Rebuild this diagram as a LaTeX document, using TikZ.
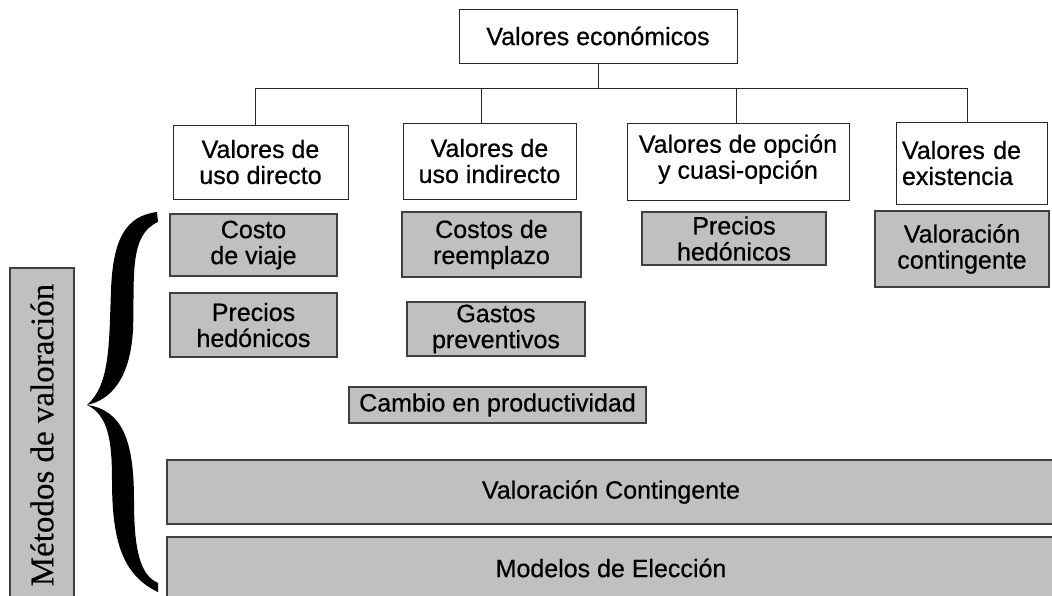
\documentclass[tikz,border=0pt]{standalone}
\usepackage{fontspec}
\setmainfont{Liberation Sans}[FakeBold=0.6]
\newfontfamily\serifont{Liberation Serif}[FakeBold=0.3]
\definecolor{graybg}{HTML}{C0C0C0}
\begin{document}
\begin{tikzpicture}[x=1pt,y=-1pt,
  txtfont/.style={font=\fontsize{25}{26}\selectfont},
  wbox/.style={draw=black!85, line width=1pt, fill=white, align=center, inner sep=0pt, txtfont},
  gbox/.style={draw=black!75, line width=1.4pt, fill=graybg, align=center, inner sep=0pt, txtfont},
  link/.style={draw=black!85, line width=1pt}]
\useasboundingbox (0,0) rectangle (1052,595);

% top level
\node[wbox, minimum width=278pt, minimum height=54pt] (top) at (598,36) {Valores económicos};

% value categories
\node[wbox, minimum width=175pt, minimum height=74pt] (v1) at (260.5,162) {Valores de\\uso directo};
\node[wbox, minimum width=173pt, minimum height=76pt] (v2) at (489.5,161) {Valores de\\uso indirecto};
\node[wbox, minimum width=222pt, minimum height=77pt, text depth=10pt] (v3) at (738,161.5) {Valores de opción\\y cuasi-opción};
\node[wbox, minimum width=151pt, minimum height=82pt, align=left, text width=139pt] (v4) at (971.5,163) {Valores de\\existencia};

% connectors
\coordinate (busL) at (255,88);
\coordinate (busR) at (967,88);
\draw[link] (top.south) -- (top.south |- busL);
\draw[link] (busL) -- (busR);
\draw[link] ([xshift=-5.5pt]v1.north) -- ([xshift=-5.5pt]v1.north |- busL);
\draw[link] ([xshift=-8.5pt]v2.north) -- ([xshift=-8.5pt]v2.north |- busL);
\draw[link] ([xshift=-2pt]v3.north) -- ([xshift=-2pt]v3.north |- busL);
\draw[link] ([xshift=-4.5pt]v4.north) -- ([xshift=-4.5pt]v4.north |- busR);

% methods
\node[gbox, minimum width=167pt, minimum height=62pt] (m1) at (253.5,245) {Costo\\de viaje};
\node[gbox, minimum width=167pt, minimum height=64pt] (m2) at (253.5,325) {Precios\\hedónicos};
\node[gbox, minimum width=179pt, minimum height=65pt] (m3) at (491.5,244.5) {Costos de\\reemplazo};
\node[gbox, minimum width=178pt, minimum height=54pt] (m4) at (496,329) {Gastos\\preventivos};
\node[gbox, minimum width=297pt, minimum height=36pt] (m5) at (497.5,405) {Cambio en productividad};
\node[gbox, minimum width=184pt, minimum height=53pt] (m6) at (734,238.5) {Precios\\hedónicos};
\node[gbox, minimum width=174pt, minimum height=76pt] (m7) at (962,249) {Valoración\\contingente};
\node[gbox, minimum width=888pt, minimum height=64pt] (w1) at (611,492) {Valoración Contingente};
\node[gbox, minimum width=888pt, minimum height=62pt] (w2) at (611,568) {Modelos de Elección};

% side label
\node[draw=black!75, line width=1.2pt, fill=graybg, inner sep=0pt, rotate=90,
      minimum width=334pt, minimum height=64pt, font=\serifont\fontsize{33}{35}\selectfont] (lab) at (42,435) {Métodos de valoración};

% brace
\fill[black] (157,212) .. controls (125,216) and (113,240) .. (111,290)
  .. controls (109,345) and (110,385) .. (87,405)
  .. controls (110,400) and (130,380) .. (133,330)
  .. controls (135,280) and (128,235) .. (158,222) -- cycle;
\fill[black] (87,405) .. controls (108,415) and (112,440) .. (112,480)
  .. controls (112,540) and (122,575) .. (158,592)
  -- (158,583)
  .. controls (140,575) and (134,550) .. (134,500)
  .. controls (134,440) and (122,410) .. (87,405) -- cycle;
\end{tikzpicture}
\end{document}
